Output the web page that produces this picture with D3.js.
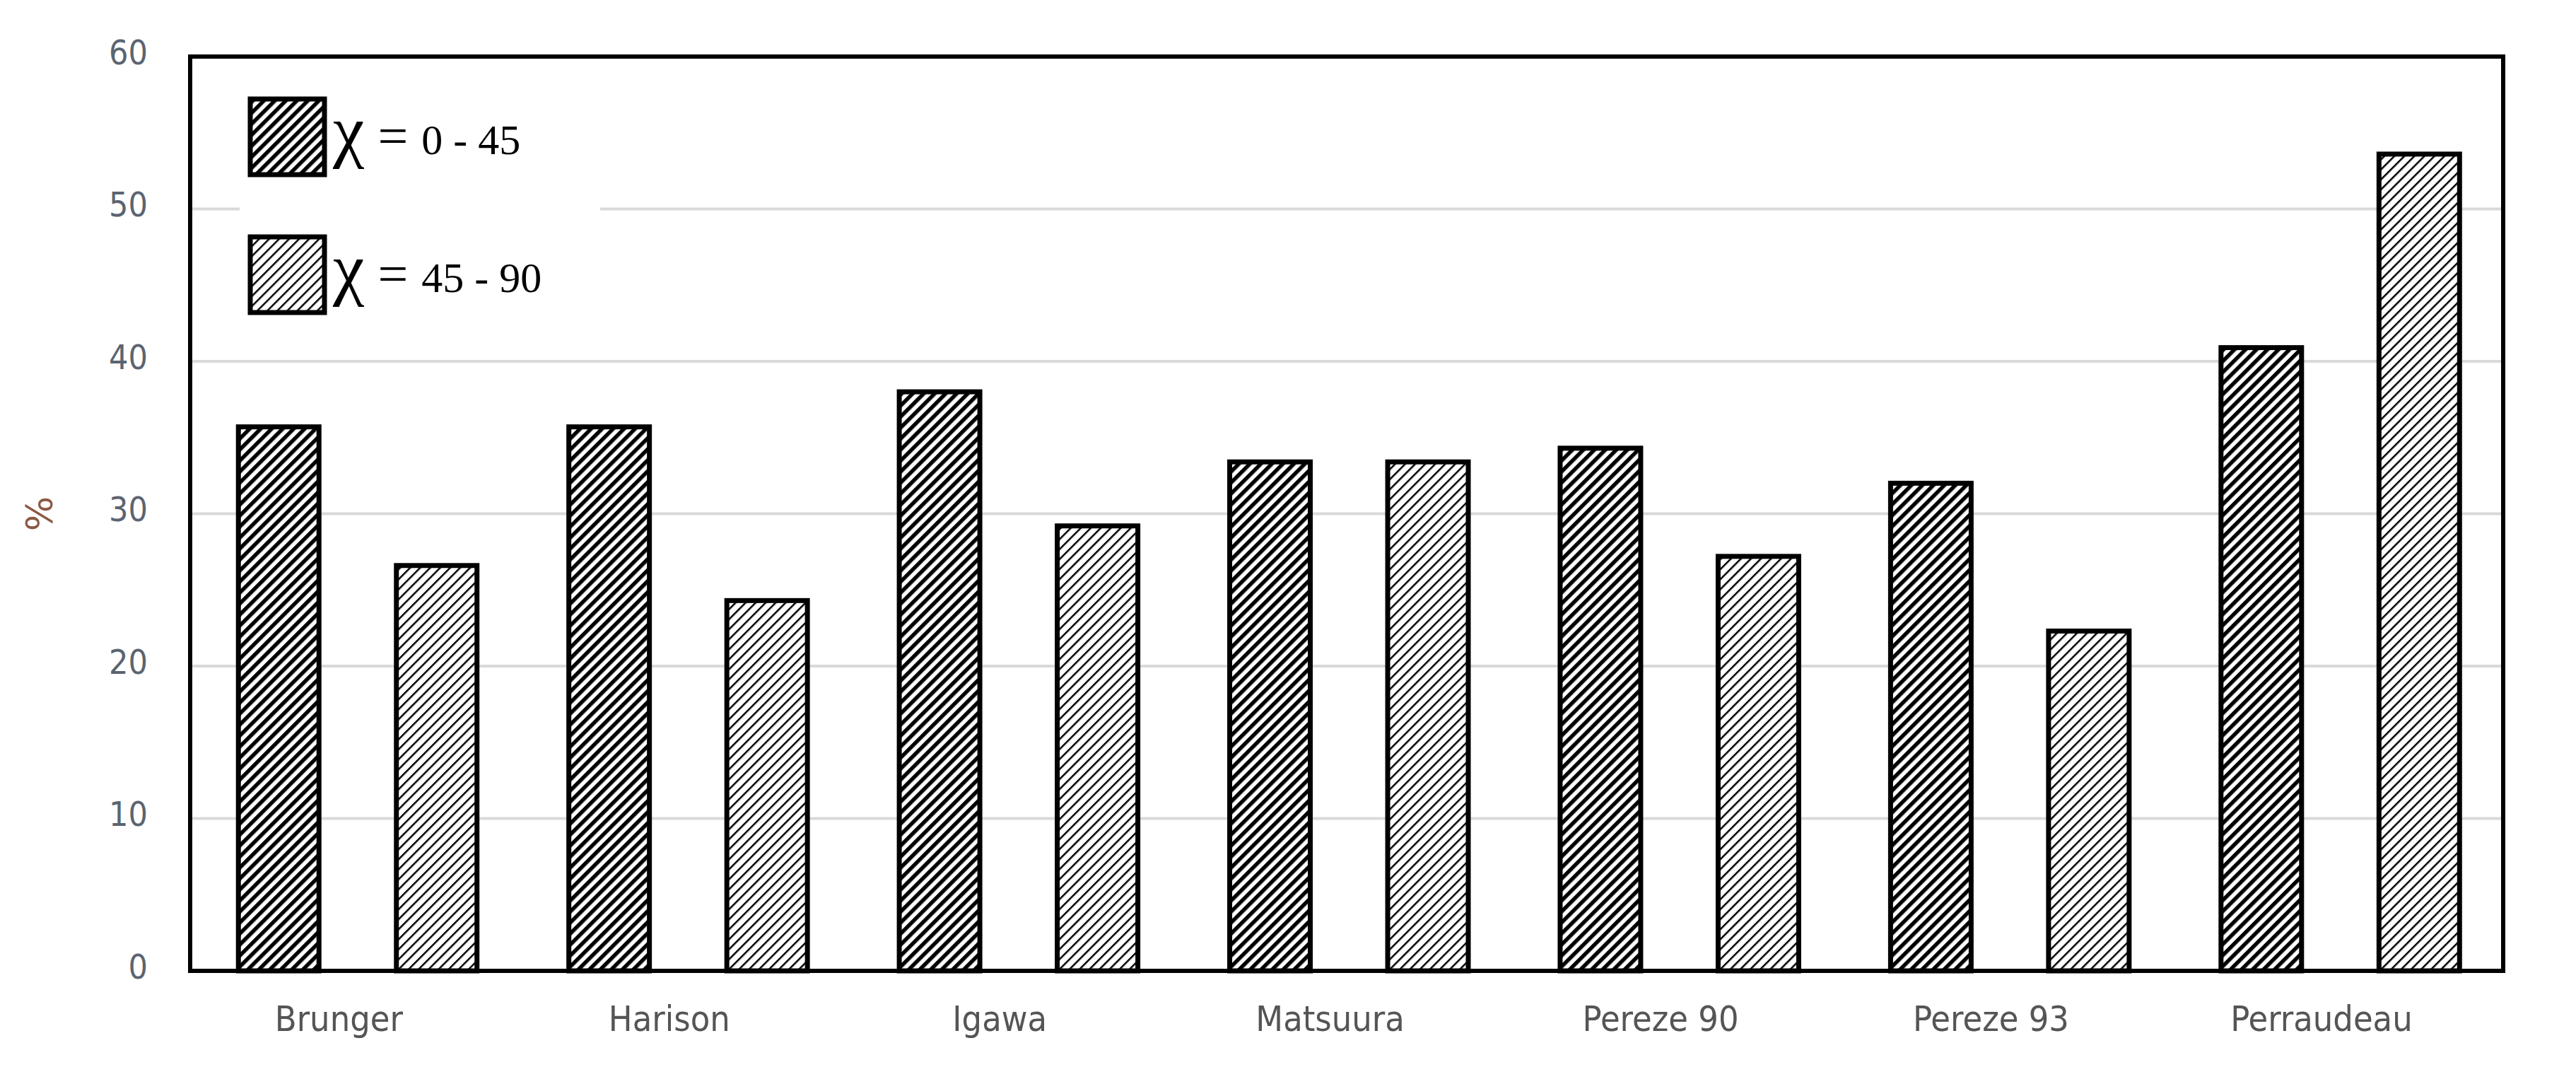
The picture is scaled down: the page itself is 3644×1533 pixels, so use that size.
<!DOCTYPE html>
<html><head><meta charset="utf-8">
<script src="https://cdn.jsdelivr.net/npm/d3@7"></script>
<style>body{margin:0;background:#fff}</style>
</head><body><div id="chart"></div>
<script>
var categories = ["Brunger", "Harison", "Igawa", "Matsuura", "Pereze 90", "Pereze 93", "Perraudeau"];
var low = [35.7, 35.7, 38.0, 33.4, 34.3, 32.0, 40.9];   // chi = 0 - 45
var high = [26.6, 24.3, 29.2, 33.4, 27.2, 22.3, 53.6];  // chi = 45 - 90
var yTicks = [0, 10, 20, 30, 40, 50, 60];
var seriesNames = ["0 - 45", "45 - 90"];

var W = 3644, H = 1533;
var margin = {top: 80, right: 103, bottom: 160, left: 269};
var width = W - margin.left - margin.right, height = H - margin.top - margin.bottom;

var svg = d3.select("#chart").append("svg").attr("width", W).attr("height", H);
var defs = svg.append("defs");

function hatch(id, gap, sw) {
  var p = defs.append("pattern").attr("id", id).attr("patternUnits", "userSpaceOnUse")
    .attr("width", gap).attr("height", gap).attr("patternTransform", "rotate(45)");
  p.append("rect").attr("width", gap).attr("height", gap).attr("fill", "#fff");
  p.append("rect").attr("x", 0).attr("width", sw).attr("height", gap).attr("fill", "#000");
}
hatch("darkHatch", 11, 5.5);
hatch("lightHatch", 10, 2.5);

var g = svg.append("g").attr("transform", "translate(" + margin.left + "," + margin.top + ")");

var y = d3.scaleLinear().domain([0, 60]).range([height, 0]);
var x = d3.scaleBand().domain(categories).range([0, width]);
var x1 = d3.scaleBand().domain(seriesNames)
  .range([x.bandwidth() * 0.146, x.bandwidth() * 0.868]).paddingInner(0.49);

// gridlines
g.append("g").selectAll("line").data(yTicks.slice(1, -1)).enter().append("line")
  .attr("x1", 0).attr("x2", width).attr("y1", d => y(d)).attr("y2", d => y(d))
  .attr("stroke", "#d9d9d9").attr("stroke-width", 4);

// y tick labels
g.append("g").selectAll("text").data(yTicks).enter().append("text")
  .attr("x", -60).attr("y", d => y(d) - 6).attr("dy", "0.35em")
  .attr("text-anchor", "end").attr("font-family", "Liberation Sans Narrow, DejaVu Sans Condensed, sans-serif")
  .attr("font-size", 48).attr("fill", "#5b6470").text(d => d);

g.append("text").attr("transform", "translate(-195," + (height / 2) + ") rotate(-90)")
  .attr("text-anchor", "middle").attr("font-family", "DejaVu Sans, sans-serif")
  .attr("font-size", 52).attr("fill", "#8a5a44").text("%");

var rows = categories.map((c, i) => ({cat: c, vals: [low[i], high[i]]}));
var grp = g.selectAll(".grp").data(rows).enter().append("g")
  .attr("transform", d => "translate(" + x(d.cat) + ",0)");
grp.selectAll("rect").data(d => d.vals.map((v, j) => ({s: seriesNames[j], v: v, j: j}))).enter()
  .append("rect")
  .attr("x", d => x1(d.s)).attr("width", x1.bandwidth())
  .attr("y", d => y(d.v)).attr("height", d => height - y(d.v))
  .attr("fill", d => d.j === 0 ? "url(#darkHatch)" : "url(#lightHatch)")
  .attr("stroke", "#000").attr("stroke-width", 7);

// category labels
g.append("g").selectAll("text").data(categories).enter().append("text")
  .attr("x", d => x(d) + x.bandwidth() * 0.45).attr("y", height + 85)
  .attr("text-anchor", "middle").attr("font-family", "Liberation Sans Narrow, DejaVu Sans Condensed, sans-serif")
  .attr("font-size", 50).attr("fill", "#555").text(d => d);

// frame
g.append("rect").attr("width", width).attr("height", height)
  .attr("fill", "none").attr("stroke", "#000").attr("stroke-width", 6);

// legend
var lg = g.append("g").attr("transform", "translate(70,15)");
lg.append("rect").attr("x", 0).attr("y", 0).attr("width", 510).attr("height", 380).attr("fill", "#fff");
seriesNames.forEach(function (s, i) {
  var yy = 45 + i * 195;
  lg.append("rect").attr("x", 15).attr("y", yy).attr("width", 105).attr("height", 107)
    .attr("fill", i === 0 ? "url(#darkHatch)" : "url(#lightHatch)")
    .attr("stroke", "#000").attr("stroke-width", 7);
  var t = lg.append("text").attr("x", 132).attr("y", yy + 78)
    .attr("font-family", "Liberation Serif, serif").attr("fill", "#000");
  t.append("tspan").attr("font-size", 100).text("χ");
  t.append("tspan").attr("font-size", 76).text(" = ");
  t.append("tspan").attr("font-size", 60).text(s);
});
</script>
</body></html>
